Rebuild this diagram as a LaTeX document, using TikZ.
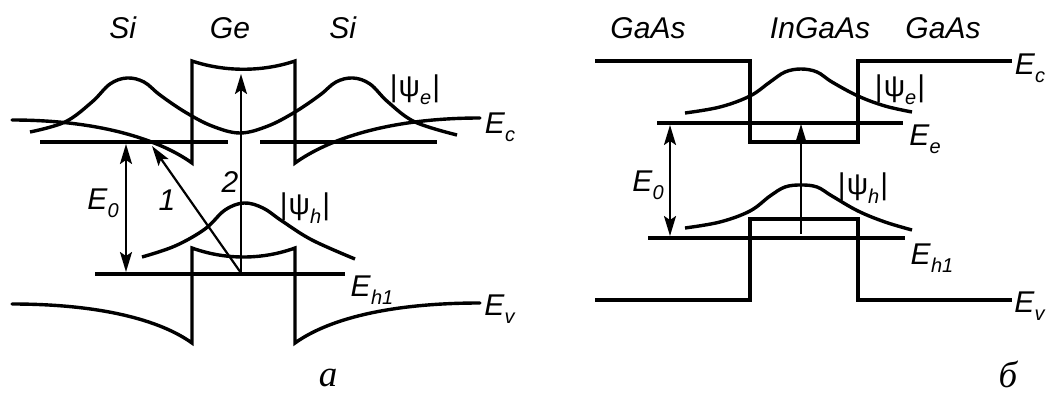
\documentclass[tikz,border=0pt]{standalone}
\usepackage{fontspec}
\setmainfont{Liberation Sans}
\newfontfamily\serifit{Liberation Serif}
\usetikzlibrary{arrows.meta}
\newcommand\Esb[1]{\textit{E}\raisebox{-0.28em}{\fontsize{20}{20}\selectfont\textit{#1}}}
\newcommand\Psb[1]{|\kern1pt ψ\raisebox{-0.28em}{\fontsize{20}{20}\selectfont\textit{#1}}\kern1pt|}
\begin{document}
\begin{tikzpicture}[x=1pt,y=-1pt,
  band/.style={line width=3.4pt,line cap=round,line join=miter},
  wave/.style={line width=3.4pt,line cap=butt},
  lvl/.style={line width=3.4pt},
  tip/.tip={Stealth[length=20pt,width=12pt,inset=4pt]},
  arr/.style={line width=2.2pt,-tip},
  darr/.style={line width=2.2pt,tip-tip},
  lab/.style={inner sep=0pt,font=\fontsize{30}{32}\selectfont},
  captxt/.style={inner sep=0pt,font=\fontsize{37}{40}\selectfont\serifit\itshape}]
\useasboundingbox (0,0) rectangle (1057,396);
% ===== panel a =====
\node[lab] (si1) at (123,28) {\textit{Si}};
\node[lab] (ge) at (230,28) {\textit{Ge}};
\node[lab] (si2) at (343,28) {\textit{Si}};
% conduction band
\draw[band] (12,120) .. controls (100,120) and (160,140) .. (192,163) -- (192,61)
  .. controls (225,72) and (262,72) .. (295,61) -- (295,163)
  .. controls (327,140) and (387,118) .. (480,118);
% electron levels
\draw[lvl] (40,142) -- (228,142);
\draw[lvl] (260,142) -- (437,142);
% electron wavefunction
\draw[wave] plot[smooth,tension=0.6] coordinates {(30,132) (65,122) (92,102) (110,84) (127,78) (144,82) (160,95) (185,112) (212,126) (240,133) (268,126) (295,112) (320,95) (336,82) (353,78) (370,84) (388,102) (415,122) (457,135)};
\node[lab] (psie) at (415,90) {\Psb{e}};
\node[lab] (ec) at (500,127) {\Esb{c}};
% valence band
\draw[band] (12,304) .. controls (100,304) and (160,320) .. (192,343) -- (192,248)
  .. controls (225,260) and (262,260) .. (295,248) -- (295,343)
  .. controls (327,320) and (387,303) .. (480,303);
\draw[lvl] (95,274) -- (345,274);
\draw[wave] plot[smooth,tension=0.6] coordinates {(142,257) (175,246) (205,229) (225,210) (244,203) (263,208) (282,221) (312,240) (355,259)};
\node[lab] (psih) at (305,208) {\Psb{h}};
\node[lab] (eh1) at (372,290) {\Esb{h1}};
\node[lab] (ev) at (500,309) {\Esb{v}};
% transitions
\coordinate (a0) at (241,273);
\coordinate (a2) at (241,74);
\coordinate (a1) at (152,146);
\draw[arr] (a0) -- (a2);
\draw[arr] (a0) -- (a1);
\node[lab] (n2) at (230,182) {\textit{2}};
\node[lab] (n1) at (167,200) {\textit{1}};
\coordinate (e0t) at (126,144);
\coordinate (e0bot) at (126,272);
\draw[darr] (e0t) -- (e0bot);
\node[lab] (e0a) at (103,203) {\Esb{0}};
\node[captxt] (capa) at (328,378) {a};
% ===== panel b =====
\node[lab] (g1) at (648,28) {\textit{GaAs}};
\node[lab] (ig) at (820,28) {\textit{InGaAs}};
\node[lab] (g2) at (943,28) {\textit{GaAs}};
\draw[band,line cap=butt] (595,61) -- (750,61) -- (750,142) -- (858,142) -- (858,61) -- (1012,61);
\draw[band,line cap=butt] (595,300) -- (750,300) -- (750,219) -- (858,219) -- (858,300) -- (1012,300);
\draw[wave] plot[smooth,tension=0.6] coordinates {(685,113) (720,107) (750,96) (770,82) (785,72) (801,69) (817,72) (832,82) (858,96) (885,106) (912,112)};
\draw[wave] plot[smooth,tension=0.6] coordinates {(685,228) (720,222) (750,211) (770,196) (785,187) (801,185) (817,187) (832,196) (858,211) (885,222) (912,230)};
\draw[lvl] (657,123) -- (903,123);
\draw[lvl] (648,238) -- (905,238);
\node[lab] (ecb) at (1030,68) {\Esb{c}};
\node[lab] (psieb) at (900,90) {\Psb{e}};
\node[lab] (eeb) at (925,139) {\Esb{e}};
\node[lab] (psihb) at (863,188) {\Psb{h}};
\node[lab] (eh1b) at (932,258) {\Esb{h1}};
\node[lab] (evb) at (1030,306) {\Esb{v}};
\coordinate (b0) at (801,234);
\coordinate (b1) at (801,124);
\draw[arr] (b0) -- (b1);
\coordinate (be0t) at (670,125);
\coordinate (be0bot) at (670,236);
\draw[darr] (be0t) -- (be0bot);
\node[lab] (e0lb) at (648,185) {\Esb{0}};
\node[captxt] (capb) at (1008,374) {б};
\end{tikzpicture}
\end{document}
